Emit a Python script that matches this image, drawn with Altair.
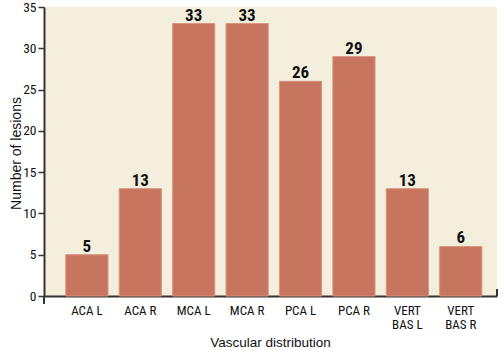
import altair as alt
import pandas as pd

categories = ["ACA L", "ACA R", "MCA L", "MCA R", "PCA L", "PCA R", "VERT|BAS L", "VERT|BAS R"]
values = [5, 13, 33, 33, 26, 29, 13, 6]

df = pd.DataFrame({"cat": categories, "n": values})

COND = "Roboto Condensed, Liberation Sans Narrow, DejaVu Sans Condensed, Roboto, sans-serif"
REG = "Liberation Sans, Arial, Helvetica, sans-serif"

x = alt.X("cat:N", sort=categories,
          scale=alt.Scale(paddingInner=0.21, paddingOuter=0.346, align=0.59),
          axis=alt.Axis(title="Vascular distribution", labelAngle=0,
                        labelExpr="split(datum.label, '|')",
                        labelFont=COND, labelFontSize=13, labelColor="#111",
                        labelLineHeight=14.5, labelBaseline="top",
                        labelPadding=8, ticks=False,
                        domainColor="#333", domainWidth=2,
                        titleFont=REG, titleFontSize=13.5, titleFontWeight="normal",
                        titleColor="#111", titleBaseline="alphabetic",
                        titleX=226, titleY=50))
y = alt.Y("n:Q", scale=alt.Scale(domain=[0, 35], nice=False),
          axis=alt.Axis(title="Number of lesions", values=list(range(0, 36, 5)),
                        grid=False, labelFont=COND, labelFontSize=13.5, labelColor="#111",
                        tickSize=6, tickColor="#333", tickWidth=1.5, labelPadding=2,
                        domainColor="#333", domainWidth=2,
                        titleFont=REG, titleFontSize=14, titleFontWeight="normal",
                        titleColor="#111", titleBaseline="alphabetic",
                        titleAngle=270, titleX=-24, titleY=146))

bars = alt.Chart(df).mark_bar(color="#c87560", stroke="#d99580", strokeWidth=1).encode(x=x, y=y)
labels = alt.Chart(df).mark_text(font=COND, fontSize=17, fontWeight="bold",
                                 color="#111", baseline="alphabetic", dy=-3).encode(
    x=alt.X("cat:N", sort=categories), y="n:Q", text="n:Q")

left_tick = alt.Chart(df).mark_rule(color="#333", strokeWidth=2).encode(
    x=alt.value(0), y=alt.value(289), y2=alt.value(297))
right_tick = alt.Chart(df).mark_rule(color="#333", strokeWidth=2).encode(
    x=alt.value(453), y=alt.value(282), y2=alt.value(289))

chart = (bars + labels + left_tick + right_tick).properties(
    width=453, height=289,
    autosize=alt.AutoSizeParams(type="none"),
    padding={"left": 44, "top": 7, "right": 5, "bottom": 54},
    background="white",
).configure_view(fill="#f3efdc", stroke=None)

chart.save("out.html", embed_options={"renderer": "svg", "actions": False})
